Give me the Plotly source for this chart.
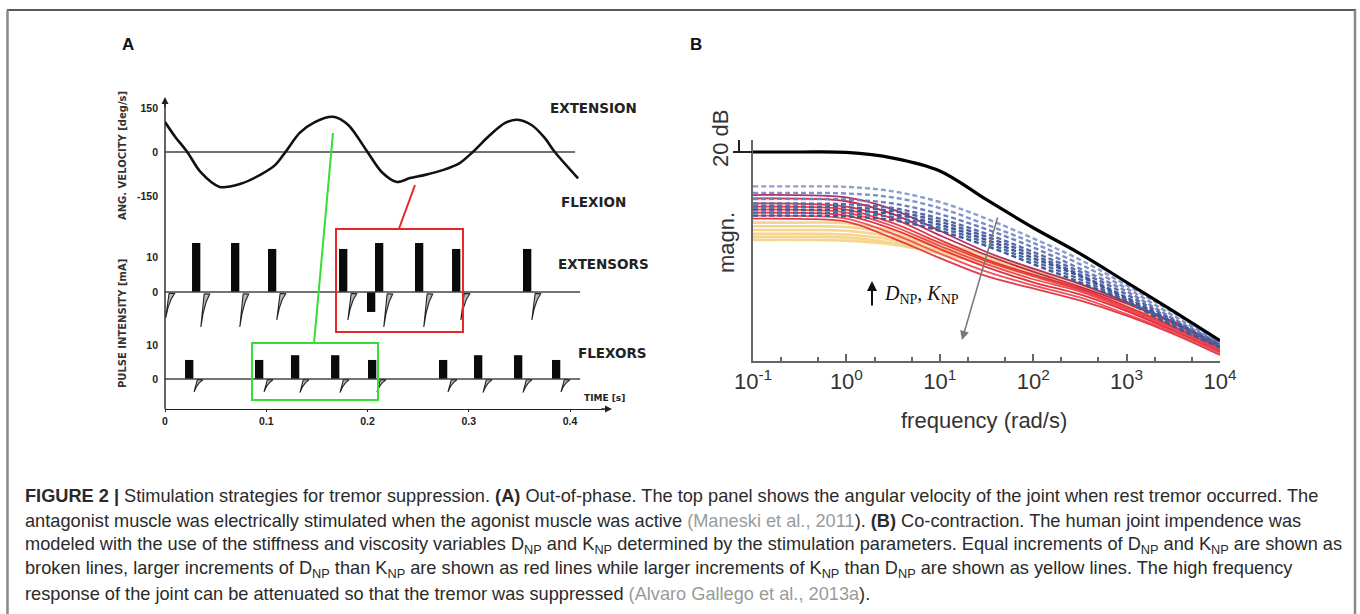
import plotly.graph_objects as go

W, H = 1360, 614
def xp(px): return px / W
def yp(py): return 1 - py / H

# ---------------- Panel A data ----------------
vel_t = [0.000, 0.010, 0.022, 0.035, 0.054, 0.074, 0.094, 0.109, 0.119, 0.133, 0.148, 0.166,
         0.181, 0.200, 0.214, 0.229, 0.242, 0.257, 0.275, 0.291, 0.304, 0.321, 0.336, 0.348,
         0.362, 0.375, 0.385, 0.408]
vel_v = [102, 52, 0, -68, -119, -109, -78, -44, 0, 65, 102, 120,
         92, 0, -68, -102, -89, -78, -61, -38, 0, 58, 99, 110,
         92, 48, 0, -90]
baseline_t = [0.0, 0.41]
vel_baseline_t = [0.0, 0.405]

ext_start = [0.0267, 0.0652, 0.1017, 0.1719, 0.2074, 0.2469, 0.2835, 0.3536]
ext_amp = [14, 14, 12.3, 12.3, 14, 14, 12.3, 12.3]
ext_neg_start = [0.1995]
ext_neg_amp = [-5.7]
ext_tail_t = [0.0, 0.0347, 0.0732, 0.1097, 0.1799, 0.2154, 0.2549, 0.2915, 0.3616]
ext_tail_depth = [-7.4, -10, -10, -8, -8, -10, -10, -8, -8]

flx_start = [0.0198, 0.0889, 0.1244, 0.1640, 0.2005, 0.2706, 0.3052, 0.3447, 0.3822]
flx_amp = [5.6, 5.6, 7, 7, 5.6, 5.6, 7, 7, 5.6]
flx_tail_depth = [-3.8, -3.8, -4, -4, -3.8, -3.8, -4, -4, -3.8]
PULSE_W = 0.0082

time_ticks = [0, 0.1, 0.2, 0.3, 0.4]
time_labels = ["0", "0.1", "0.2", "0.3", "0.4"]

red_box_t = [0.1689, 0.2943]
red_box_y = [-11.4, 18.0]
green_box_t = [0.0859, 0.2104]
green_box_y = [-6.2, 10.6]

# ---------------- Panel B data ----------------
freq = [0.1, 0.3162, 1, 3.162, 10, 31.62, 100, 316.2, 1000, 3162, 10000]
black_db = [0, 0, -0.3, -4, -12.5, -31.5, -50, -67, -86, -105, -124.5]

blue_db = [
    [-22.7, -22.7, -23, -26, -33, -44, -57, -71, -88, -106, -125],
    [-27, -27, -27.4, -30, -37, -48, -60, -74, -90, -108, -126],
    [-31, -31, -31.4, -34, -41, -51, -63, -77, -92, -110, -126.5],
    [-34, -34, -34.5, -37, -44, -54, -66, -79, -94, -111, -127],
    [-36, -36, -36.5, -39, -46, -56, -68, -81, -96, -112, -127.5],
    [-38, -38, -38.5, -41, -48, -58, -70, -82, -97, -113, -128],
    [-40, -40, -40.5, -43, -50, -60, -72, -84, -98, -114, -128.5],
    [-42, -42, -42.5, -45, -52, -62, -74, -86, -99, -115, -129],
]
red_db = [
    [-28.4, -28.5, -30, -38, -52, -66, -77, -87, -99, -112, -128],
    [-30.7, -30.8, -32.5, -41, -55, -68, -79, -89, -100, -113, -129],
    [-34, -34.2, -36, -44, -58, -71, -81, -90, -102, -115, -130],
    [-36, -36.2, -38, -47, -60, -72, -82, -91, -103, -116, -131],
    [-38, -38.2, -40, -49, -62, -74, -84, -92, -104, -117, -131.5],
    [-40, -40.2, -42, -51, -64, -76, -86, -94, -105, -118, -132],
    [-42, -42.2, -44, -54, -67, -79, -88, -96, -107, -119, -133],
    [-44, -44.2, -46, -57, -70, -82, -90, -98, -108, -120, -134],
]
yellow_db = [
    [-46.6, -46.6, -47, -52, -60, -68, -77, -87, -99, -113, -129],
    [-49, -49, -49.5, -54, -62, -70, -78, -88, -100, -114, -129.5],
    [-51.5, -51.5, -52, -56, -63, -71, -79, -89, -101, -115, -130],
    [-54, -54, -54.5, -58, -65, -72, -80, -90, -102, -116, -130.5],
    [-56, -56, -56.5, -60, -66, -73, -81, -91, -103, -117, -131],
    [-58, -58, -58.5, -61, -67, -74, -82, -92, -104, -118, -131.5],
]
freq_ticks = [0.1, 1, 10, 100, 1000, 10000]
freq_labels = ["10<sup>-1</sup>", "10<sup>0</sup>", "10<sup>1</sup>",
               "10<sup>2</sup>", "10<sup>3</sup>", "10<sup>4</sup>"]
scale_bar_db = [0, 20]

# tail template (style): dt offsets and depth fractions
TAIL_DX = [0.0040, 0.0007, 0.0030, 0.0060, 0.0095, 0.0040]
TAIL_FY = [0.05, 1.0, 0.6, 0.28, 0.06, 0.05]

fig = go.Figure()
SANS = "Liberation Sans, Arial, sans-serif"
HEAVY = "DejaVu Sans, Verdana, sans-serif"

# ---- Panel A traces ----
for ax, bt in [("y", vel_baseline_t), ("y2", baseline_t), ("y3", baseline_t)]:
    fig.add_trace(go.Scatter(x=bt, y=[0, 0], mode="lines",
                             line=dict(color="#444", width=1.3), xaxis="x", yaxis=ax,
                             hoverinfo="skip", showlegend=False))

def add_tail(t0, depth, yaxis):
    fig.add_trace(go.Scatter(x=[t0 + d for d in TAIL_DX], y=[depth * f for f in TAIL_FY],
                             mode="lines", fill="toself", fillcolor="#b8b8b8",
                             line=dict(color="#222", width=1.1), xaxis="x", yaxis=yaxis,
                             hoverinfo="skip", showlegend=False))

for t0, d in zip(ext_tail_t, ext_tail_depth):
    add_tail(t0, d, "y2")
for t0, d in zip(flx_start, flx_tail_depth):
    add_tail(t0 + PULSE_W, d, "y3")

for xs, ys, ya in [(ext_start, ext_amp, "y2"), (ext_neg_start, ext_neg_amp, "y2"), (flx_start, flx_amp, "y3")]:
    fig.add_trace(go.Bar(x=xs, y=ys, width=PULSE_W, offset=0, base=0,
                         marker=dict(color="#0a0a0a", line=dict(width=0)), xaxis="x", yaxis=ya,
                         showlegend=False, hoverinfo="skip"))

fig.add_trace(go.Scatter(x=vel_t, y=vel_v, mode="lines",
                         line=dict(color="#111", width=2.6, shape="spline", smoothing=0.8),
                         xaxis="x", yaxis="y", hoverinfo="skip", showlegend=False))

# ---- Panel B traces ----
for c in yellow_db:
    fig.add_trace(go.Scatter(x=freq, y=c, mode="lines",
                             line=dict(color="#f6d58e", width=2.6, shape="spline"),
                             xaxis="x2", yaxis="y4", hoverinfo="skip", showlegend=False))
red_cols = ["#b0306a", "#c02a55", "#e0343f", "#e8404a", "#ef4a55", "#e8303c", "#f05060", "#e43c48"]
for i, c in enumerate(red_db):
    fig.add_trace(go.Scatter(x=freq, y=c, mode="lines",
                             line=dict(color=red_cols[i], width=1.8, shape="spline"),
                             xaxis="x2", yaxis="y4", hoverinfo="skip", showlegend=False))
blue_cols = ["#8c9fd0", "#8090c8", "#6f7fb8", "#5a6aa8", "#4a5d9d", "#3f5596", "#4b68a8", "#3a5a9a"]
for i, c in enumerate(blue_db):
    fig.add_trace(go.Scatter(x=freq, y=c, mode="lines",
                             line=dict(color=blue_cols[i], width=2.4, dash="5px,3px", shape="spline"),
                             xaxis="x2", yaxis="y4", hoverinfo="skip", showlegend=False))
fig.add_trace(go.Scatter(x=freq, y=black_db, mode="lines",
                         line=dict(color="#000", width=3.2, shape="spline"),
                         xaxis="x2", yaxis="y4", hoverinfo="skip", showlegend=False))

# ---- Axes ----
TIME_PX = 1012.5
ytickfont = dict(family=SANS, size=10.5, color="#222")
fig.update_layout(
    template="none",
    width=W, height=H, margin=dict(l=0, r=0, t=0, b=0, pad=0), autosize=False,
    paper_bgcolor="white", plot_bgcolor="rgba(0,0,0,0)", barmode="overlay", showlegend=False,
    xaxis=dict(domain=[xp(165), xp(604)], range=[0, (604 - 165) / TIME_PX], anchor="free",
               position=yp(409), showline=True, linecolor="#222", linewidth=1.4, automargin=False,
               tickvals=time_ticks, ticktext=["<b>%s</b>" % s for s in time_labels],
               ticks="outside", ticklen=2, tickcolor="#222",
               tickfont=dict(family=SANS, size=10.5, color="#222"), showgrid=False, zeroline=False),
    yaxis=dict(domain=[yp(205), yp(100)], range=[(152 - 205) * 150 / 44, (152 - 100) * 150 / 44],
               anchor="x", tickvals=[150, 0, -150], ticktext=["<b>150</b>", "<b>0</b>", "<b>-150</b>"],
               ticks="", tickfont=ytickfont, automargin=False, ticklabelstandoff=6,
               showgrid=False, zeroline=False, showline=False),
    yaxis2=dict(domain=[yp(340), yp(225)], range=[(292 - 340) / 3.5, (292 - 225) / 3.5],
                anchor="x", tickvals=[10, 0], ticktext=["<b>10</b>", "<b>0</b>"], ticks="",
                tickfont=ytickfont, automargin=False, ticklabelstandoff=6,
                showgrid=False, zeroline=False, showline=False),
    yaxis3=dict(domain=[yp(405), yp(340)], range=[(379 - 405) / 3.4, (379 - 340) / 3.4],
                anchor="x", tickvals=[10, 0], ticktext=["<b>10</b>", "<b>0</b>"], ticks="",
                tickfont=ytickfont, automargin=False, ticklabelstandoff=6,
                showgrid=False, zeroline=False, showline=False),
    xaxis2=dict(type="log", domain=[xp(753), xp(1220)], range=[-1, 4], anchor="y4",
                showline=True, linecolor="#666", linewidth=2, mirror=False, automargin=False,
                tickvals=freq_ticks, ticktext=freq_labels, ticks="inside", ticklen=7,
                tickcolor="#666", tickwidth=1.5,
                minor=dict(ticks="inside", ticklen=4, tickcolor="#666", showgrid=False),
                tickfont=dict(family=SANS, size=22, color="#333"), showgrid=False, zeroline=False),
    yaxis4=dict(domain=[yp(361), yp(140)], range=[-(361 - 152) * 20 / 30.3, (152 - 140) * 20 / 30.3],
                anchor="x2", showline=True, linecolor="#666", linewidth=2, ticks="", automargin=False,
                showticklabels=False, showgrid=False, zeroline=False),
)

shapes = []
shapes.append(dict(type="line", xref="paper", yref="paper", x0=xp(7), x1=xp(1356), y0=yp(10), y1=yp(10),
                   line=dict(color="#222", width=1.5)))
shapes.append(dict(type="line", xref="paper", yref="paper", x0=xp(7.5), x1=xp(7.5), y0=yp(10), y1=yp(620),
                   line=dict(color="#888", width=2.5)))
shapes.append(dict(type="line", xref="paper", yref="paper", x0=xp(1355), x1=xp(1355), y0=yp(10), y1=yp(620),
                   line=dict(color="#888", width=2.5)))
shapes.append(dict(type="line", xref="paper", yref="paper", x0=xp(165), x1=xp(165), y0=yp(409), y1=yp(102),
                   line=dict(color="#222", width=1.4)))
shapes.append(dict(type="rect", xref="x", yref="y2", x0=red_box_t[0], x1=red_box_t[1],
                   y0=red_box_y[0], y1=red_box_y[1], line=dict(color="#e8262a", width=2)))
shapes.append(dict(type="rect", xref="x", yref="y3", x0=green_box_t[0], x1=green_box_t[1],
                   y0=green_box_y[0], y1=green_box_y[1], line=dict(color="#35dd35", width=2)))
shapes.append(dict(type="line", xref="x", yref="paper", x0=0.231, x1=0.2469, y0=yp(229), y1=yp(185),
                   line=dict(color="#e8262a", width=2)))
shapes.append(dict(type="line", xref="x", yref="paper", x0=0.1472, x1=0.1659, y0=yp(343), y1=yp(133),
                   line=dict(color="#35dd35", width=2)))
shapes.append(dict(type="line", xref="paper", yref="y4", x0=xp(739), x1=xp(739), y0=scale_bar_db[0], y1=scale_bar_db[1],
                   line=dict(color="#222", width=2)))
shapes.append(dict(type="line", xref="paper", yref="y4", x0=xp(733), x1=xp(746), y0=scale_bar_db[1], y1=scale_bar_db[1],
                   line=dict(color="#222", width=2)))
shapes.append(dict(type="line", xref="paper", yref="y4", x0=xp(733), x1=xp(752), y0=scale_bar_db[0], y1=scale_bar_db[0],
                   line=dict(color="#222", width=2)))
fig.update_layout(shapes=shapes)

ann = []
def txt(x, y, s, size, color="#222", bold=False, angle=0, xanchor="center", family=SANS):
    ann.append(dict(x=xp(x), y=yp(y), xref="paper", yref="paper", text=("<b>%s</b>" % s) if bold else s,
                    showarrow=False, font=dict(family=family, size=size, color=color),
                    textangle=angle, xanchor=xanchor, yanchor="middle"))

txt(128, 44, "A", 17, "#111", True)
txt(696, 44, "B", 17, "#111", True)
txt(122, 156, "ANG. VELOCITY [deg/s]", 10, "#333", True, -90, family=HEAVY)
txt(122, 324, "PULSE INTENSITY [mA]", 10, "#333", True, -90, family=HEAVY)
txt(593, 108, "EXTENSION", 13.5, "#222", True, family=HEAVY)
txt(593, 202, "FLEXION", 13.5, "#222", True, family=HEAVY)
txt(603, 264, "EXTENSORS", 13.5, "#222", True, family=HEAVY)
txt(612, 353, "FLEXORS", 13.5, "#222", True, family=HEAVY)
txt(604, 398, "TIME [s]", 9, "#222", True, family=HEAVY)

ann.append(dict(x=xp(165), y=yp(97), xref="paper", yref="paper", ax=0, ay=12, showarrow=True,
                arrowhead=2, arrowsize=1, arrowwidth=1.4, arrowcolor="#222", text=""))
ann.append(dict(x=xp(612), y=yp(409), xref="paper", yref="paper", ax=-12, ay=0, showarrow=True,
                arrowhead=2, arrowsize=1, arrowwidth=1.4, arrowcolor="#222", text=""))

txt(720, 138, "20 dB", 22, "#333", False, -90)
txt(727, 243, "magn.", 22, "#333", False, -90)
txt(984, 420, "frequency (rad/s)", 22, "#333")
ann.append(dict(x=xp(962), y=yp(340), xref="paper", yref="paper", ax=36, ay=-124, showarrow=True,
                arrowhead=2, arrowsize=1.2, arrowwidth=1.5, arrowcolor="#777", text=""))
ann.append(dict(x=xp(872), y=yp(281), xref="paper", yref="paper", ax=0, ay=26, showarrow=True,
                arrowhead=2, arrowsize=1, arrowwidth=2, arrowcolor="#111", text=""))
txt(882, 294, "<i>D</i><sub>NP</sub>, <i>K</i><sub>NP</sub>", 20, "#111", False, 0, "left",
    "Liberation Serif, Times New Roman, serif")

CAP = "Liberation Sans, Arial, sans-serif"
GR = "<span style='color:#9a9a9a'>%s</span>"
cap_lines = [
    "<b>FIGURE 2 |</b> Stimulation strategies for tremor suppression. <b>(A)</b> Out-of-phase. The top panel shows the angular velocity of the joint when rest tremor occurred. The",
    "antagonist muscle was electrically stimulated when the agonist muscle was active " + GR % "(Maneski et al., 2011" + "). <b>(B)</b> Co-contraction. The human joint impendence was",
    "modeled with the use of the stiffness and viscosity variables D<sub>NP</sub> and K<sub>NP</sub> determined by the stimulation parameters. Equal increments of D<sub>NP</sub> and K<sub>NP</sub> are shown as",
    "broken lines, larger increments of D<sub>NP</sub> than K<sub>NP</sub> are shown as red lines while larger increments of K<sub>NP</sub> than D<sub>NP</sub> are shown as yellow lines. The high frequency",
    "response of the joint can be attenuated so that the tremor was suppressed " + GR % "(Alvaro Gallego et al., 2013a" + ").",
]
cap_y = [496, 520.5, 545, 569.5, 594]
for s, y in zip(cap_lines, cap_y):
    txt(23, y, s, 18.2, "#2a2a2a", False, 0, "left", CAP)

fig.update_layout(annotations=ann)
fig.write_html("out.html", config={"displayModeBar": False},
               post_script="document.body.style.margin='0';document.body.style.overflow='hidden';")
